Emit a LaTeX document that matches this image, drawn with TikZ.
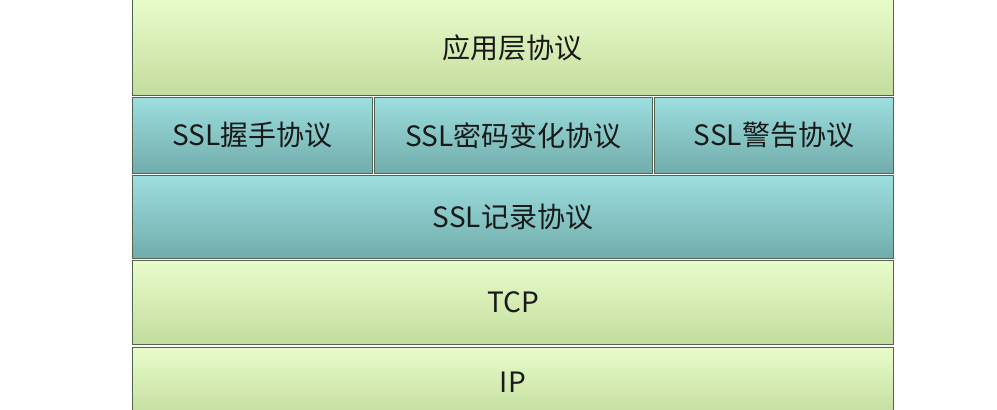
\documentclass[tikz,border=0pt]{standalone}
\usepackage{fontspec}
\newfontfamily\cjk{Noto Sans CJK SC}
\usetikzlibrary{positioning}

\definecolor{greentop}{RGB}{232,252,202}
\definecolor{greenbot}{RGB}{196,220,158}
\definecolor{tealtop}{RGB}{156,222,222}
\definecolor{tealbot}{RGB}{114,172,172}
\definecolor{edgeline}{RGB}{80,100,80}

\tikzset{
  layer/.style={rectangle,draw=edgeline,line width=0.8pt,inner sep=0pt,
    font=\cjk\fontsize{28}{32}\selectfont,text=black!90},
  greenlayer/.style={layer,top color=greentop,bottom color=greenbot},
  teallayer/.style={layer,top color=tealtop,bottom color=tealbot}
}

\begin{document}
\begin{tikzpicture}[x=1pt,y=-1pt]
  \useasboundingbox[fill=white] (0,0) rectangle (997,410);
  \node[greenlayer,minimum width=761pt,minimum height=96pt,anchor=north west] (app) at (132,-1) {应用层协议};
  \node[teallayer,minimum width=240pt,minimum height=76pt,anchor=north west] (hs) at (132,97) {SSL握手协议};
  \node[teallayer,minimum width=278pt,minimum height=76pt,anchor=north west] (ccs) at (374,97) {SSL密码变化协议};
  \node[teallayer,minimum width=239pt,minimum height=76pt,anchor=north west] (alert) at (654,97) {SSL警告协议};
  \node[teallayer,minimum width=761pt,minimum height=83pt,anchor=north west] (rec) at (132,175) {SSL记录协议};
  \node[greenlayer,minimum width=761pt,minimum height=84pt,anchor=north west] (tcp) at (132,260) {TCP};
  \node[greenlayer,minimum width=761pt,minimum height=70pt,anchor=north west] (ip) at (132,347) {IP};
\end{tikzpicture}
\end{document}
